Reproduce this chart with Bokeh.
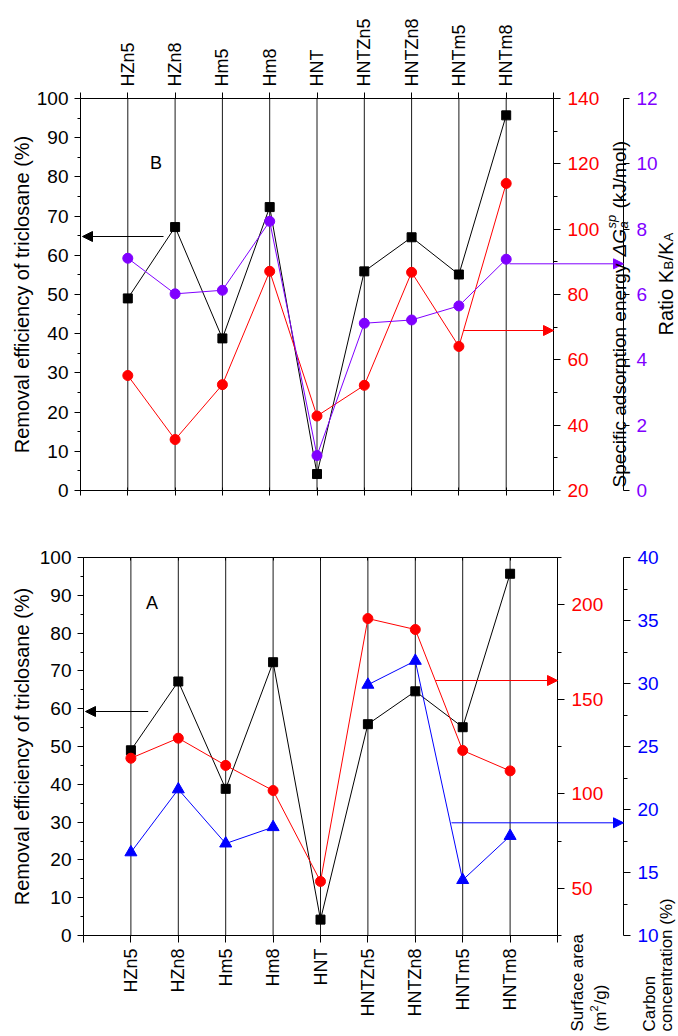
import math
import numpy as np
from bokeh.plotting import figure
from bokeh.layouts import column
from bokeh.models import (Range1d, LinearAxis, FixedTicker, Label, Arrow,
                          NormalHead, ColumnDataSource)
from bokeh.embed import file_html
from bokeh.resources import INLINE

# ---------------- data ----------------
materials = ["HZn5", "HZn8", "Hm5", "Hm8", "HNT", "HNTZn5", "HNTZn8", "HNTm5", "HNTm8"]
positions = [1, 2, 3, 4, 5, 6, 7, 8, 9]
removal = [49.0, 67.2, 38.8, 72.3, 4.2, 55.9, 64.6, 55.1, 95.7]            # %
adsorption_energy = [55.2, 35.6, 52.4, 87.1, 42.8, 52.2, 86.8, 64.1, 114.0]  # kJ/mol
ratio_kb_ka = [7.11, 6.02, 6.13, 8.24, 1.07, 5.12, 5.22, 5.65, 7.08]
surface_area = [118.8, 129.4, 115.0, 101.7, 53.6, 192.7, 186.9, 122.9, 112.1]  # m2/g
carbon = [16.6, 21.6, 17.3, 18.6, float("nan"), 29.9, 31.8, 14.4, 17.9]      # %

left_ticks = [0, 10, 20, 30, 40, 50, 60, 70, 80, 90, 100]
left_minor = [5, 15, 25, 35, 45, 55, 65, 75, 85, 95]
energy_ticks = [20, 40, 60, 80, 100, 120, 140]
energy_minor = [30, 50, 70, 90, 110, 130]
ratio_ticks = [0, 2, 4, 6, 8, 10, 12]
area_ticks = [50, 100, 150, 200]
area_minor = [25, 75, 125, 175, 225]
carbon_ticks = [10, 15, 20, 25, 30, 35, 40]
carbon_minor = [12.5, 17.5, 22.5, 27.5, 32.5, 37.5]
frame_ticks = [0, 1, 2, 3, 4, 5, 6, 7, 8, 9, 10]

FONT = "Liberation Sans"
NUM_FS = "19px"
CAT_FS = "18px"
RED = "#FF0000"
PURPLE = "#8000FF"
BLUE = "#0000FF"
W = 678

src = ColumnDataSource(dict(x=positions, removal=removal, energy=adsorption_energy,
                            ratio=ratio_kb_ka, area=surface_area,
                            carbon=np.array(carbon, dtype=float),
                            y0=[0] * 9, y1=[100] * 9))

cat_labels = {0: "", 10: ""}
for i, m in zip(positions, materials):
    cat_labels[i] = m
blank_labels = {t: "" for t in frame_ticks}


def span_range(v0, v1, p0, p1, lo_px, hi_px):
    s = (p1 - p0) / (v1 - v0)
    return Range1d(v0 + (lo_px - p0) / s, v0 + (hi_px - p0) / s)


def yrange(v0, v1, p0, p1, top, bottom):
    s = (p0 - p1) / (v1 - v0)          # px per unit (upward)
    return Range1d(v0 - (bottom - p0) / s, v1 + (p1 - top) / s)


def make_fig(height, xr, yr, extra):
    p = figure(width=W, height=height, x_range=xr, y_range=yr,
               x_axis_type=None, y_axis_type=None, output_backend="svg",
               toolbar_location=None, min_border=0, min_border_left=0, min_border_right=0,
               min_border_top=0, min_border_bottom=0)
    p.extra_y_ranges = extra
    p.outline_line_color = None
    p.background_fill_color = "white"
    p.border_fill_color = "white"
    p.segment(x0="x", y0="y0", x1="x", y1="y1", source=src, line_color="#1a1a1a", line_width=1)
    return p


def axis(ticks, minor=None, color="black", tin=0, tout=6, min_in=0, min_out=3,
         standoff=6, size=NUM_FS, **kw):
    ax = LinearAxis(ticker=FixedTicker(ticks=ticks, minor_ticks=minor or []), **kw)
    ax.axis_line_color = "black"
    ax.major_tick_line_color = "black"
    ax.minor_tick_line_color = "black"
    ax.major_tick_in = tin
    ax.major_tick_out = tout
    ax.minor_tick_in = min_in
    ax.minor_tick_out = min_out
    ax.major_label_text_font = FONT
    ax.major_label_text_font_size = size
    ax.major_label_text_color = color
    ax.major_label_standoff = standoff
    return ax


def rlabel(p, x, y, text, size=19, dx=0, dy=0, color="black", italic=False,
           align="left", baseline="alphabetic"):
    p.add_layout(Label(x=x, y=y, x_offset=dx, y_offset=dy, text=text, angle=math.pi / 2,
                       text_font=FONT, text_font_size=f"{size}px", text_color=color,
                       text_align=align, text_baseline=baseline,
                       text_font_style="italic" if italic else "normal"))


def arrow(p, x0, x1, y, color):
    p.add_layout(Arrow(end=NormalHead(size=10, fill_color=color, line_color=color, line_width=1),
                       x_start=x0, y_start=y, x_end=x1, y_end=y,
                       line_color=color, line_width=1))


# ---------------- panel B (top figure, page y 0..515) ----------------
B_H = 515
bxr = span_range(0, 10, 80, 553, 0, W)
byr = yrange(0, 100, 490, 98, 0, B_H)
pB = make_fig(B_H, bxr, byr, {"energy": yrange(20, 140, 490, 98, 0, B_H),
                              "ratio": yrange(0, 12, 490, 98, 0, B_H)})
bpx = lambda px: (px - 80) / 47.3            # page x -> category units
bpy = lambda py: (490 - py) / 3.92           # page y -> left-axis units

pB.add_layout(axis(left_ticks, left_minor, tout=6, min_out=3, standoff=6,
                   fixed_location=0, bounds=(0, 100)), "left")
axBot = axis(frame_ticks, tin=3, tout=5, standoff=0, size="0px",
             fixed_location=0, bounds=(0, 10))
axBot.major_label_overrides = blank_labels
pB.add_layout(axBot, "below")
axTop = axis(frame_ticks, tin=0, tout=6, standoff=6, size=CAT_FS,
             fixed_location=100, bounds=(0, 10))
axTop.major_label_overrides = cat_labels
axTop.major_label_orientation = math.pi / 2
pB.add_layout(axTop, "above")
pB.add_layout(axis(energy_ticks, energy_minor, color=RED, tout=7, min_out=4, standoff=7,
                   y_range_name="energy", fixed_location=10, bounds=(20, 140)), "right")
purple_x = bpx(623)
pB.add_layout(axis(ratio_ticks, None, color=PURPLE, tout=6, min_out=0, standoff=7,
                   y_range_name="ratio", fixed_location=purple_x, bounds=(0, 12)), "right")

pB.line("x", "removal", source=src, color="black", line_width=1)
pB.scatter("x", "removal", source=src, marker="square", size=9, color="black")
pB.line("x", "energy", source=src, color=RED, line_width=1, y_range_name="energy")
pB.scatter("x", "energy", source=src, marker="circle", size=10, color=RED, y_range_name="energy")
pB.line("x", "ratio", source=src, color=PURPLE, line_width=1, y_range_name="ratio")
pB.scatter("x", "ratio", source=src, marker="circle", size=10, color=PURPLE, y_range_name="ratio")

arrow(pB, bpx(163), bpx(82), bpy(236), "black")
arrow(pB, bpx(463), 10.0, bpy(330), RED)
arrow(pB, bpx(509), purple_x, bpy(263.3), PURPLE)

pB.add_layout(Label(x=bpx(155.5), y=bpy(162), text="B", text_font=FONT, text_font_size="18px",
                    text_color="black", text_align="center", text_baseline="middle"))

rlabel(pB, bpx(21.5), 50, "Removal efficiency of triclosane (%)", size=20,
       align="center", baseline="middle")
bx, by = bpx(619), bpy(487)
rlabel(pB, bx, by, "Specific adsorption energy", dy=0)
rlabel(pB, bx, by, "\u0394G", dy=231, italic=True)
rlabel(pB, bx, by, "a", size=13, dx=4, dy=259, italic=True)
rlabel(pB, bx, by, "sp", size=13, dx=-8, dy=259, italic=True)
rlabel(pB, bx, by, "(kJ/mol)", dy=279)
kx, ky = bpx(665), bpy(335)
rlabel(pB, kx, ky, "Ratio K", size=20, dy=0)
rlabel(pB, kx, ky, "B", size=13, dx=3, dy=66)
rlabel(pB, kx, ky, "/K", size=20, dy=75)
rlabel(pB, kx, ky, "A", size=13, dx=3, dy=94)

# ---------------- panel A (bottom figure, page y 515..1036) ----------------
A_TOP, A_H = 515, 521
axr = span_range(0, 10, 83, 557, 0, W)
ayr = yrange(0, 100, 935, 557, A_TOP, A_TOP + A_H)
pA = make_fig(A_H, axr, ayr, {"area": yrange(25, 225, 935, 557, A_TOP, A_TOP + A_H),
                              "carbon": yrange(10, 40, 935, 557, A_TOP, A_TOP + A_H)})
apx = lambda px: (px - 83) / 47.4
apy = lambda py: (935 - py) / 3.78

pA.add_layout(axis(left_ticks, left_minor, tout=6, min_out=3, standoff=6,
                   fixed_location=0, bounds=(0, 100)), "left")
axTop2 = axis(frame_ticks, tin=3, tout=0, standoff=0, size="0px",
              fixed_location=100, bounds=(0, 10))
axTop2.major_label_overrides = blank_labels
pA.add_layout(axTop2, "above")
axBot2 = axis(frame_ticks, tin=0, tout=7, standoff=6, size=CAT_FS,
              fixed_location=0, bounds=(0, 10))
axBot2.major_label_overrides = cat_labels
axBot2.major_label_orientation = math.pi / 2
pA.add_layout(axBot2, "below")
pA.add_layout(axis(area_ticks, area_minor, color=RED, tout=7, min_out=4, standoff=7,
                   y_range_name="area", fixed_location=10, bounds=(25, 225)), "right")
blue_x = apx(623)
pA.add_layout(axis(carbon_ticks, carbon_minor, color=BLUE, tout=7, min_out=4, standoff=7,
                   y_range_name="carbon", fixed_location=blue_x, bounds=(10, 40)), "right")

pA.line("x", "removal", source=src, color="black", line_width=1)
pA.scatter("x", "removal", source=src, marker="square", size=9, color="black")
pA.line("x", "area", source=src, color=RED, line_width=1, y_range_name="area")
pA.scatter("x", "area", source=src, marker="circle", size=10, color=RED, y_range_name="area")
pA.line("x", "carbon", source=src, color=BLUE, line_width=1, y_range_name="carbon")
pA.scatter("x", "carbon", source=src, marker="triangle", size=12, color=BLUE, y_range_name="carbon")

arrow(pA, apx(147.7), apx(85), apy(711), "black")
arrow(pA, apx(435), 10.0, apy(680), RED)
arrow(pA, apx(451), blue_x, apy(822.3), BLUE)

pA.add_layout(Label(x=apx(151.5), y=apy(602), text="A", text_font=FONT, text_font_size="18px",
                    text_color="black", text_align="center", text_baseline="middle"))

rlabel(pA, apx(21.5), 50, "Removal efficiency of triclosane (%)", size=20,
       align="center", baseline="middle")
sy = apy(1031)
rlabel(pA, apx(577), sy, "Surface area", size=17)
rlabel(pA, apx(600), sy, "(m", size=17, dy=0)
rlabel(pA, apx(600), sy, "2", size=11, dx=-7, dy=20)
rlabel(pA, apx(600), sy, "/g)", size=17, dy=27)
rlabel(pA, apx(649), sy, "Carbon", size=17)
rlabel(pA, apx(666), sy, "concentration  (%)", size=17)

layout = column(pB, pA, spacing=0)
open("out.html", "w").write(file_html(layout, INLINE))
